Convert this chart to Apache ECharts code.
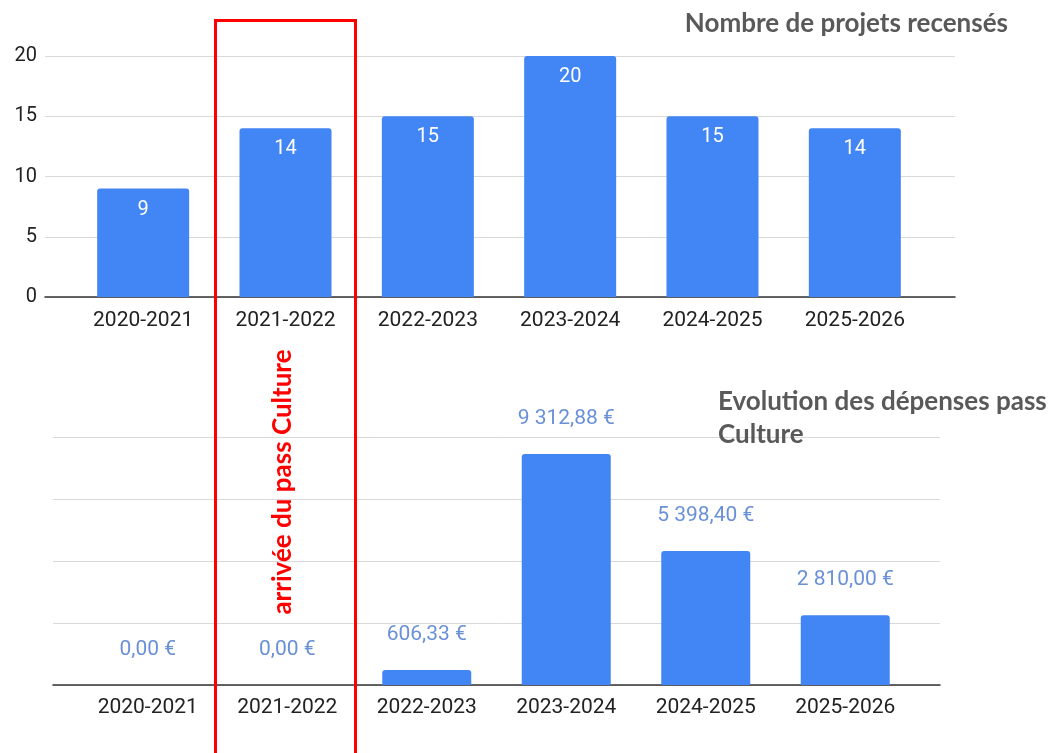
<!DOCTYPE html>
<html>
<head>
<meta charset="utf-8">
<script src="https://cdn.jsdelivr.net/npm/echarts@6/dist/echarts.min.js"></script>
<style>
  html, body { margin: 0; padding: 0; background: #fff; }
  #main { width: 1053px; height: 753px; }
</style>
</head>
<body>
<div id="main"></div>
<script>
var saisons = ['2020-2021', '2021-2022', '2022-2023', '2023-2024', '2024-2025', '2025-2026'];
var nbProjets = [9, 14, 15, 20, 15, 14];
var depenses = [0, 0, 606.33, 9312.88, 5398.40, 2810.00];
var projetsTicks = { min: 0, max: 20, interval: 5 };
var depensesTicks = { min: 0, max: 10000, interval: 2500 };

var bleu = '#4285f4';

// format "9 312,88 €"
function euro(v) {
  var parts = v.toFixed(2).split('.');
  var ent = parts[0].replace(/\B(?=(\d{3})+(?!\d))/g, ' ');
  return ent + ',' + parts[1] + ' €';
}

var chart = echarts.init(document.getElementById('main'));

var option = {
  animation: false,
  backgroundColor: '#fff',
  textStyle: { fontFamily: 'Roboto' },
  title: [
    {
      text: 'Nombre de projets recensés',
      right: 40, top: 6,
      textStyle: { fontFamily: 'Lato', fontWeight: 'bold', fontSize: 26, color: '#595959' }
    },
    {
      text: 'Evolution des dépenses pass\nCulture',
      left: 713, top: 380,
      textStyle: { fontFamily: 'Lato', fontWeight: 'bold', fontSize: 26, color: '#595959', lineHeight: 33 }
    }
  ],
  grid: [
    { left: 45, right: 98, top: 56, height: 241 },   // fond haut (grille)
    { left: 72, right: 127, top: 56, height: 241 },  // barres haut
    { left: 53, right: 113, top: 437, height: 248 }, // fond bas
    { left: 78, right: 138, top: 437, height: 248 }  // barres bas
  ],
  xAxis: [
    { gridIndex: 0, type: 'value', min: 0, max: 1, axisLabel: { show: false }, axisTick: { show: false },
      splitLine: { show: false }, axisLine: { show: true, lineStyle: { color: '#333', width: 1.5 } } },
    { gridIndex: 1, type: 'category', data: saisons, axisLine: { show: false }, axisTick: { show: false },
      axisLabel: { color: '#222', fontSize: 21, margin: 13 } },
    { gridIndex: 2, type: 'value', min: 0, max: 1, axisLabel: { show: false }, axisTick: { show: false },
      splitLine: { show: false }, axisLine: { show: true, lineStyle: { color: '#333', width: 1.5 } } },
    { gridIndex: 3, type: 'category', data: saisons, axisLine: { show: false }, axisTick: { show: false },
      axisLabel: { color: '#222', fontSize: 21, margin: 12 } }
  ],
  yAxis: [
    { gridIndex: 0, type: 'value', min: projetsTicks.min, max: projetsTicks.max, interval: projetsTicks.interval,
      axisLine: { show: false }, axisTick: { show: false },
      axisLabel: { color: '#222', fontSize: 20, margin: 8 },
      splitLine: { lineStyle: { color: '#d9d9d9', width: 1 } } },
    { gridIndex: 1, type: 'value', min: projetsTicks.min, max: projetsTicks.max, interval: projetsTicks.interval,
      show: false, splitLine: { show: false } },
    { gridIndex: 2, type: 'value', min: depensesTicks.min, max: depensesTicks.max, interval: depensesTicks.interval,
      axisLine: { show: false }, axisTick: { show: false }, axisLabel: { show: false },
      splitLine: { lineStyle: { color: '#d9d9d9', width: 1 } } },
    { gridIndex: 3, type: 'value', min: depensesTicks.min, max: depensesTicks.max, interval: depensesTicks.interval,
      show: false, splitLine: { show: false } }
  ],
  series: [
    {
      type: 'bar', xAxisIndex: 1, yAxisIndex: 1, data: nbProjets, barWidth: 92,
      itemStyle: { color: bleu, borderRadius: [3, 3, 0, 0] },
      label: { show: true, position: 'insideTop', distance: 11, color: '#fff', fontSize: 20 }
    },
    {
      type: 'bar', xAxisIndex: 3, yAxisIndex: 3, data: depenses, barWidth: 89,
      itemStyle: { color: bleu, borderRadius: [3, 3, 0, 0] },
      label: { show: true, position: 'top', distance: 25, color: '#6a90d8', fontSize: 21,
        formatter: function (p) { return euro(p.value); } }
    }
  ],
  graphic: [
    {
      type: 'rect', z: 100,
      shape: { x: 215.5, y: 20.5, width: 140, height: 760 },
      style: { fill: 'none', stroke: '#ff0000', lineWidth: 3 }
    },
    {
      type: 'text', z: 100,
      x: 283, y: 482, rotation: Math.PI / 2,
      style: { text: 'arrivée du pass Culture', fill: '#ff0000', font: 'bold 26px Lato',
        align: 'center', verticalAlign: 'middle' }
    }
  ]
};

chart.setOption(option);
</script>
</body>
</html>
